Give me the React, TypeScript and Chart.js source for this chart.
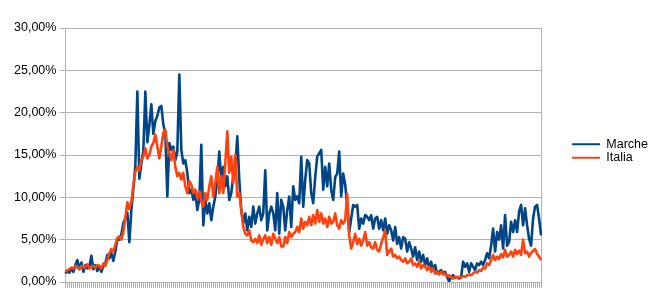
import React, { useEffect, useRef } from 'react';
import { Chart, registerables } from 'chart.js';

Chart.register(...registerables);

const seriesNames = ['Marche', 'Italia'];

// daily positivity rate (%), Marche
const marche = [
  1.0, 1.3, 1.1, 1.6, 1.2, 2.0, 2.6, 1.5, 2.3, 1.2, 2.0, 1.6, 1.8, 3.1, 1.5, 2.0, 1.3, 1.9, 1.2, 1.9, 2.2,
  3.2, 2.8, 3.4, 2.5, 3.6, 5.1, 5.0, 5.6, 7.0, 7.5, 8.2, 4.7, 8.5, 11.0, 13.8, 22.5, 12.2, 14.0, 15.5, 22.5, 16.5, 18.5, 21.0, 17.5, 19.0,
  19.6, 20.6, 20.8, 18.6, 17.6, 10.1, 16.4, 15.6, 16.0, 14.4, 15.4, 24.5, 15.6, 14.0, 14.4, 12.9, 10.5, 10.9, 9.7, 10.5, 8.5, 9.7, 16.2, 6.7,
  9.7, 8.1, 9.3, 7.3, 8.9, 10.1, 12.1, 15.4, 12.1, 13.6, 11.3, 12.5, 9.7, 10.5, 12.5, 13.6, 17.2, 12.1, 8.5, 6.9, 8.1, 6.1, 7.7, 6.5, 8.9,
  6.9, 8.1, 8.9, 7.3, 8.1, 13.2, 6.1, 8.1, 8.9, 8.1, 6.1, 10.5, 5.7, 9.7, 8.9, 6.1, 8.5, 10.1, 6.5, 11.3, 9.7, 10.1, 9.3,
  14.8, 8.9, 12.1, 14.4, 14.0, 10.5, 9.3, 12.4, 14.8, 15.2, 15.6, 10.9, 13.6, 11.3, 14.0, 10.9, 9.7, 12.4, 12.8, 15.4, 10.1, 12.8, 11.5,
  9.0, 5.9, 7.5, 9.1, 8.9, 9.1, 6.3, 7.5, 6.9, 7.9, 7.7, 7.3, 7.9, 6.3, 7.5, 7.7, 6.3, 7.3, 6.1, 7.5, 5.7, 6.7, 6.1, 4.9,
  6.5, 4.5, 5.3, 3.95, 5.3, 5.1, 3.6, 4.7, 3.95, 3.0, 4.1, 2.6, 3.6, 2.4, 3.2, 2.0, 2.8, 1.6, 2.4, 1.4, 2.0, 1.0, 1.2,
  1.4, 1.0, 1.2, 0.6, 0.05, 0.6, 0.8, 0.5, 0.6, 0.4, 0.6, 2.4, 1.8, 2.2, 1.2, 2.2, 1.8, 1.4, 2.2, 2.0, 2.4, 2.0, 2.6, 3.4, 2.8,
  4.3, 6.3, 3.6, 5.9, 5.0, 6.7, 3.95, 7.9, 4.3, 4.7, 7.1, 5.9, 7.3, 5.9, 8.3, 9.1, 6.7, 8.7, 6.7, 5.1, 4.3, 7.5, 8.9, 9.1, 7.5, 5.5,
];

// daily positivity rate (%), Italia
const italia = [
  1.2, 1.4, 1.5, 1.7, 1.6, 1.9, 1.7, 1.6, 1.9, 1.7, 1.8, 2.1, 1.6, 1.8, 1.9, 1.7, 2.0, 1.8, 1.6, 2.2, 1.9,
  2.6, 3.4, 3.9, 3.6, 4.4, 5.2, 5.4, 5.0, 5.9, 7.6, 9.4, 8.6, 9.5, 11.4, 13.0, 13.6, 13.2, 14.4, 14.8, 15.8, 14.6, 15.0, 16.0, 16.4, 17.4,
  16.0, 14.6, 16.0, 17.6, 18.0, 16.0, 15.2, 14.4, 15.6, 13.6, 12.5, 12.9, 12.1, 12.9, 11.3, 10.5, 11.9, 11.5, 10.5, 10.9, 9.9, 10.7, 9.5, 8.9,
  10.5, 9.7, 11.3, 12.5, 10.1, 11.7, 13.6, 10.5, 12.5, 10.5, 14.0, 17.8, 12.9, 14.8, 11.7, 15.0, 10.1, 10.5, 8.5, 6.5, 5.7, 5.5, 6.1, 4.9, 4.7,
  5.1, 4.6, 5.5, 4.4, 5.1, 5.5, 4.6, 5.3, 4.4, 5.7, 5.1, 4.6, 5.3, 4.2, 4.2, 5.3, 4.6, 5.9, 5.3, 5.7, 5.9, 6.5, 5.9,
  7.5, 6.3, 7.1, 6.7, 7.7, 6.7, 7.9, 6.9, 8.5, 7.1, 8.1, 6.9, 7.5, 6.5, 7.7, 6.9, 7.1, 8.1, 6.7, 6.3, 7.3, 6.9, 7.3,
  10.4, 5.5, 3.95, 4.7, 5.7, 4.5, 5.1, 4.3, 4.9, 5.9, 4.3, 4.7, 4.1, 3.95, 4.7, 3.8, 3.6, 4.5, 5.3, 6.0, 3.2, 3.6, 3.95, 3.0,
  3.2, 2.8, 3.0, 2.6, 2.4, 2.8, 2.2, 2.4, 2.8, 2.0, 2.2, 1.8, 2.4, 1.6, 2.0, 1.8, 1.4, 1.8, 1.2, 1.6, 1.0, 1.2, 0.9,
  1.2, 0.9, 1.0, 0.7, 0.8, 0.6, 0.4, 0.6, 0.5, 0.6, 0.5, 0.7, 0.6, 0.8, 0.9, 0.8, 1.0, 1.2, 1.1, 1.4, 1.3, 1.7, 1.6, 2.2, 2.0,
  2.6, 3.2, 2.6, 3.0, 2.7, 3.3, 2.9, 3.8, 3.0, 3.2, 3.6, 3.0, 3.8, 3.3, 3.7, 3.2, 5.0, 3.4, 3.6, 3.0, 3.4, 3.7, 3.9, 3.3, 3.0, 2.6,
];

const yMin = 0;
const yMax = 30;
const yStep = 5;

const labels = marche.map((_, i) => `${i + 1}`);

const fmtPct = (v: number) => Number(v).toFixed(2).replace('.', ',') + '%';

const legendShift = {
  id: 'legendShift',
  afterLayout(chart: any) {
    if (chart.legend) {
      chart.legend.top -= 7;
      chart.legend.bottom -= 7;
    }
  },
};

export default function App() {
  const ref = useRef<HTMLCanvasElement>(null);

  useEffect(() => {
    if (!ref.current) return;
    const font = { family: '"Liberation Sans", Arial, sans-serif', size: 12.5 };
    const gridColor = '#b3b3b3';
    const chart = new Chart(ref.current, {
      type: 'line',
      data: {
        labels,
        datasets: [
          {
            label: seriesNames[0],
            data: marche,
            borderColor: '#004586',
            backgroundColor: '#004586',
            borderWidth: 2.6,
            pointRadius: 0,
            borderJoinStyle: 'round',
            tension: 0,
            order: 1,
          },
          {
            label: seriesNames[1],
            data: italia,
            borderColor: '#ff420e',
            backgroundColor: '#ff420e',
            borderWidth: 2.6,
            pointRadius: 0,
            borderJoinStyle: 'round',
            tension: 0,
            order: 0,
          },
        ],
      },
      options: {
        animation: false,
        responsive: false,
        layout: { padding: { left: 11, top: 28, bottom: 16, right: -8 } },
        scales: {
          x: {
            offset: false,
            grid: { drawOnChartArea: false, color: '#b0b0b0', tickLength: 6, lineWidth: 1 },
            border: { color: gridColor },
            ticks: { display: false, autoSkip: false },
          },
          y: {
            min: yMin,
            max: yMax,
            ticks: { stepSize: yStep, callback: (v: any) => fmtPct(v), font, color: '#000', padding: 3 },
            grid: { color: gridColor, tickLength: 6 },
            border: { color: gridColor },
          },
          yR: {
            type: 'linear',
            position: 'right',
            display: true,
            grid: { display: false },
            ticks: { display: false },
            border: { color: gridColor },
            afterFit: (s: any) => {
              s.width = 30;
            },
          },
        },
        plugins: {
          tooltip: { enabled: false },
          legend: {
            position: 'right',
            labels: {
              font,
              color: '#000',
              boxWidth: 28,
              boxHeight: 2,
              padding: 1,
              sort: (a: any, b: any) => a.datasetIndex - b.datasetIndex,
              generateLabels: (c: any) =>
                Chart.defaults.plugins.legend.labels.generateLabels(c).map((l: any) => ({ ...l, lineWidth: 0 })),
            },
          },
        },
      } as any,
      plugins: [legendShift],
    });
    return () => chart.destroy();
  }, []);

  return (
    <div style={{ position: 'absolute', left: 0, top: 0, width: 650, height: 304 }}>
      <canvas ref={ref} width={650} height={304} style={{ display: 'block' }} />
    </div>
  );
}
